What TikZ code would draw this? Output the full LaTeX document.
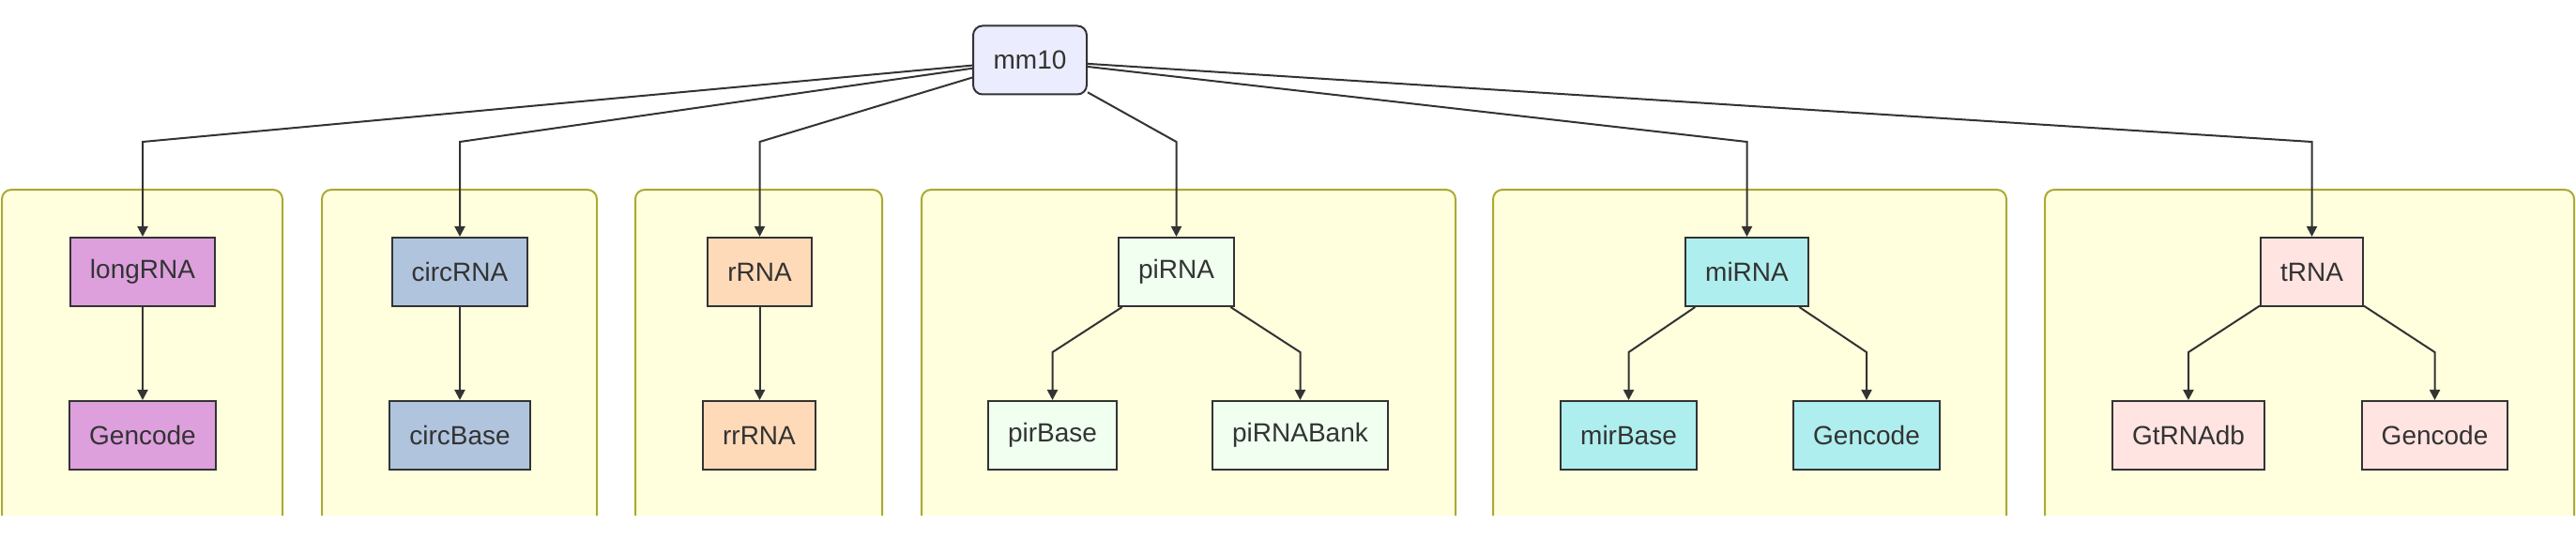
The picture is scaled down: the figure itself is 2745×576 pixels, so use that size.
\documentclass[tikz,border=0pt]{standalone}
\usepackage{fontspec}
\setmainfont{Liberation Sans}
\usetikzlibrary{arrows.meta}
\definecolor{txt}{HTML}{333333}
\definecolor{clfill}{HTML}{FFFFDE}
\definecolor{cldraw}{HTML}{AAAA33}
\definecolor{rootfill}{HTML}{ECECFF}
\definecolor{cplum}{HTML}{DDA0DD}
\definecolor{csteel}{HTML}{B0C4DE}
\definecolor{cpeach}{HTML}{FFDAB9}
\definecolor{choney}{HTML}{F0FFF0}
\definecolor{cturq}{HTML}{AFEEEE}
\definecolor{cmisty}{HTML}{FFE4E1}
\tikzset{
  x=0.5pt, y=-0.5pt,
  box/.style={draw=txt, line width=1pt, text=txt, font=\fontsize{14pt}{16pt}\selectfont,
    inner xsep=10.5pt, inner ysep=0pt, minimum height=36.5pt},
  rootbox/.style={box, fill=rootfill, rounded corners=5pt, inner xsep=10.8pt},
  cluster/.style={fill=clfill, draw=cldraw, line width=1pt, rounded corners=5pt},
  conn/.style={draw=txt, line width=1pt, -{Triangle[length=5.5pt,width=5.5pt]}}
}
\begin{document}
\begin{tikzpicture}
\useasboundingbox (0,0) rectangle (2745,576);
\fill[white] (0,0) rectangle (2745,576);
\begin{scope}
  \clip (0,0) rectangle (2745,549);
  \path[cluster] (2,202) rectangle (301,570);
  \path[cluster] (343,202) rectangle (636,570);
  \path[cluster] (677,202) rectangle (940,570);
  \path[cluster] (982,202) rectangle (1551,570);
  \path[cluster] (1591,202) rectangle (2138,570);
  \path[cluster] (2179,202) rectangle (2743,570);
\end{scope}

\node[rootbox] (mm10) at (1097.5,64) {mm10};

\node[box, fill=cplum] (longRNA) at (152,289.5) {longRNA};
\node[box, fill=cplum] (lgGen) at (152,463.5) {Gencode};
\node[box, fill=csteel] (circRNA) at (490,289.5) {circRNA};
\node[box, fill=csteel] (circBase) at (490,463.5) {circBase};
\node[box, fill=cpeach] (rRNA) at (809.5,289.5) {rRNA};
\node[box, fill=cpeach] (rrRNA) at (809,463.5) {rrRNA};
\node[box, fill=choney] (piRNA) at (1253.5,289.5) {piRNA};
\node[box, fill=choney] (pirBase) at (1121.5,463.5) {pirBase};
\node[box, fill=choney] (piRNABank) at (1385.5,463.5) {piRNABank};
\node[box, fill=cturq] (miRNA) at (1861.5,289.5) {miRNA};
\node[box, fill=cturq] (mirBase) at (1735.5,463.5) {mirBase};
\node[box, fill=cturq] (miGen) at (1989,463.5) {Gencode};
\node[box, fill=cmisty] (tRNA) at (2463.5,289.5) {tRNA};
\node[box, fill=cmisty] (GtRNAdb) at (2332,463.5) {GtRNAdb};
\node[box, fill=cmisty] (tGen) at (2594.5,463.5) {Gencode};

\coordinate (b1) at (152,151);
\coordinate (b2) at (490,151);
\coordinate (b3) at (809.5,151);
\coordinate (b4) at (1253.5,151);
\coordinate (b5) at (1861.5,151);
\coordinate (b6) at (2463.5,151);
\draw[conn] (mm10) -- (b1) -- (longRNA.north);
\draw[conn] (mm10) -- (b2) -- (circRNA.north);
\draw[conn] (mm10) -- (b3) -- (rRNA.north);
\draw[conn] (mm10) -- (b4) -- (piRNA.north);
\draw[conn] (mm10) -- (b5) -- (miRNA.north);
\draw[conn] (mm10) -- (b6) -- (tRNA.north);

\draw[conn] (longRNA) -- (lgGen);
\draw[conn] (circRNA) -- (circBase);
\draw[conn] (rRNA.south) -- (rRNA.south |- rrRNA.north);

\coordinate (c1) at (1121.5,375);
\coordinate (c2) at (1385.5,375);
\coordinate (c3) at (1735.5,375);
\coordinate (c4) at (1989,375);
\coordinate (c5) at (2332,375);
\coordinate (c6) at (2594.5,375);
\draw[conn] (piRNA) -- (c1) -- (pirBase.north);
\draw[conn] (piRNA) -- (c2) -- (piRNABank.north);
\draw[conn] (miRNA) -- (c3) -- (mirBase.north);
\draw[conn] (miRNA) -- (c4) -- (miGen.north);
\draw[conn] (tRNA) -- (c5) -- (GtRNAdb.north);
\draw[conn] (tRNA) -- (c6) -- (tGen.north);
\end{tikzpicture}
\end{document}
